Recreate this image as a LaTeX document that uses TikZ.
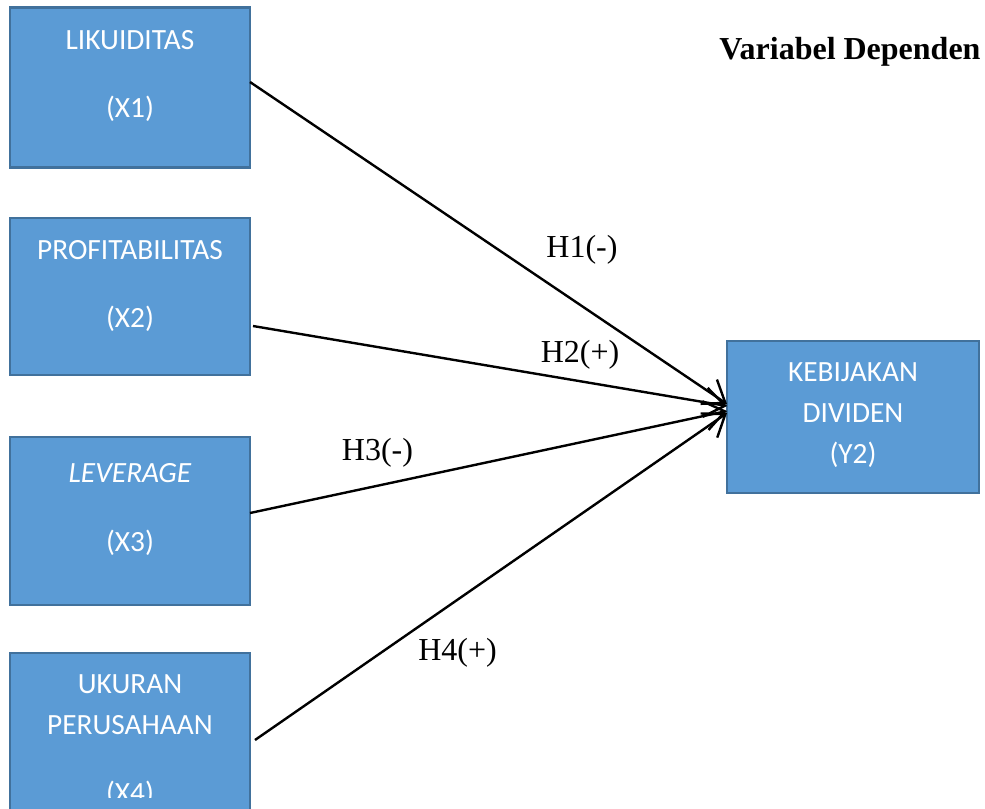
\documentclass[tikz,border=0pt]{standalone}
\usepackage{fontspec}
\setmainfont{Liberation Serif}
\newfontfamily\boxfont{Carlito}
\usetikzlibrary{arrows.meta}
\definecolor{boxfill}{HTML}{5B9BD5}
\definecolor{boxline}{HTML}{41719C}
\tikzset{
  varbox/.style={draw=boxline, fill=boxfill, line width=1.6pt, inner sep=0pt},
  boxtext/.style={anchor=base, text=white, font=\boxfont\fontsize{22}{26}\selectfont, inner sep=0pt},
  hyplabel/.style={anchor=base, font=\fontsize{24}{28}\selectfont, inner sep=0pt},
  link/.style={line width=1.8pt, -{Straight Barb[length=15pt,width=22pt,line width=1.8pt]}}
}
\begin{document}
\begin{tikzpicture}[x=0.75pt,y=-0.75pt]
\useasboundingbox (0,0) rectangle (985,808);
\clip (0,0) rectangle (985,808);
\fill[white] (0,0) rectangle (985,808);
% boxes
\node[varbox, minimum width=180pt, minimum height=120pt] (b1) at (130,87.5) {};
\node[varbox, minimum width=180pt, minimum height=117.75pt] (b2) at (130,296.5) {};
\node[varbox, minimum width=180pt, minimum height=126pt] (b3) at (130,521) {};
\node[varbox, minimum width=180pt, minimum height=127.5pt] (b4) at (130,738) {};
\node[varbox, minimum width=189pt, minimum height=114pt] (y) at (853,417) {};
% box texts
\node[boxtext] (t1a) at (130,49) {LIKUIDITAS};
\node[boxtext] (t1b) at (130,117) {(X1)};
\node[boxtext] (t2a) at (130,259) {PROFITABILITAS};
\node[boxtext] (t2b) at (130,327) {(X2)};
\node[boxtext] (t3a) at (130,482) {\itshape LEVERAGE};
\node[boxtext] (t3b) at (130,551) {(X3)};
\node[boxtext] (t4a) at (130,693) {UKURAN};
\node[boxtext] (t4b) at (130,734) {PERUSAHAAN};
\begin{scope}
\clip (20,760) rectangle (240,797);
\node[boxtext] (t4c) at (130,802) {(X4)};
\end{scope}
\node[boxtext] (ya) at (853,381) {KEBIJAKAN};
\node[boxtext] (yb) at (853,422) {DIVIDEN};
\node[boxtext] (yc) at (853,463) {(Y2)};
% title
\node[hyplabel, font=\bfseries\fontsize{24}{28}\selectfont] (title) at (850,59) {Variabel Dependen};
% connector ends
\coordinate (s1) at (250,82);
\coordinate (s2) at (253,326);
\coordinate (s3) at (250,513);
\coordinate (s4) at (255,740);
\coordinate (e1) at (727,404);
\coordinate (e2) at (727,406);
\coordinate (e3) at (727,411);
\coordinate (e4) at (727,413);
\draw[link] (s1) -- (e1);
\draw[link] (s2) -- (e2);
\draw[link] (s3) -- (e3);
\draw[link] (s4) -- (e4);
% labels
\node[hyplabel] (h1) at (582,257) {H1(-)};
\node[hyplabel] (h2) at (580,362) {H2(+)};
\node[hyplabel] (h3) at (377.5,460) {H3(-)};
\node[hyplabel] (h4) at (457.5,660) {H4(+)};
\end{tikzpicture}
\end{document}
